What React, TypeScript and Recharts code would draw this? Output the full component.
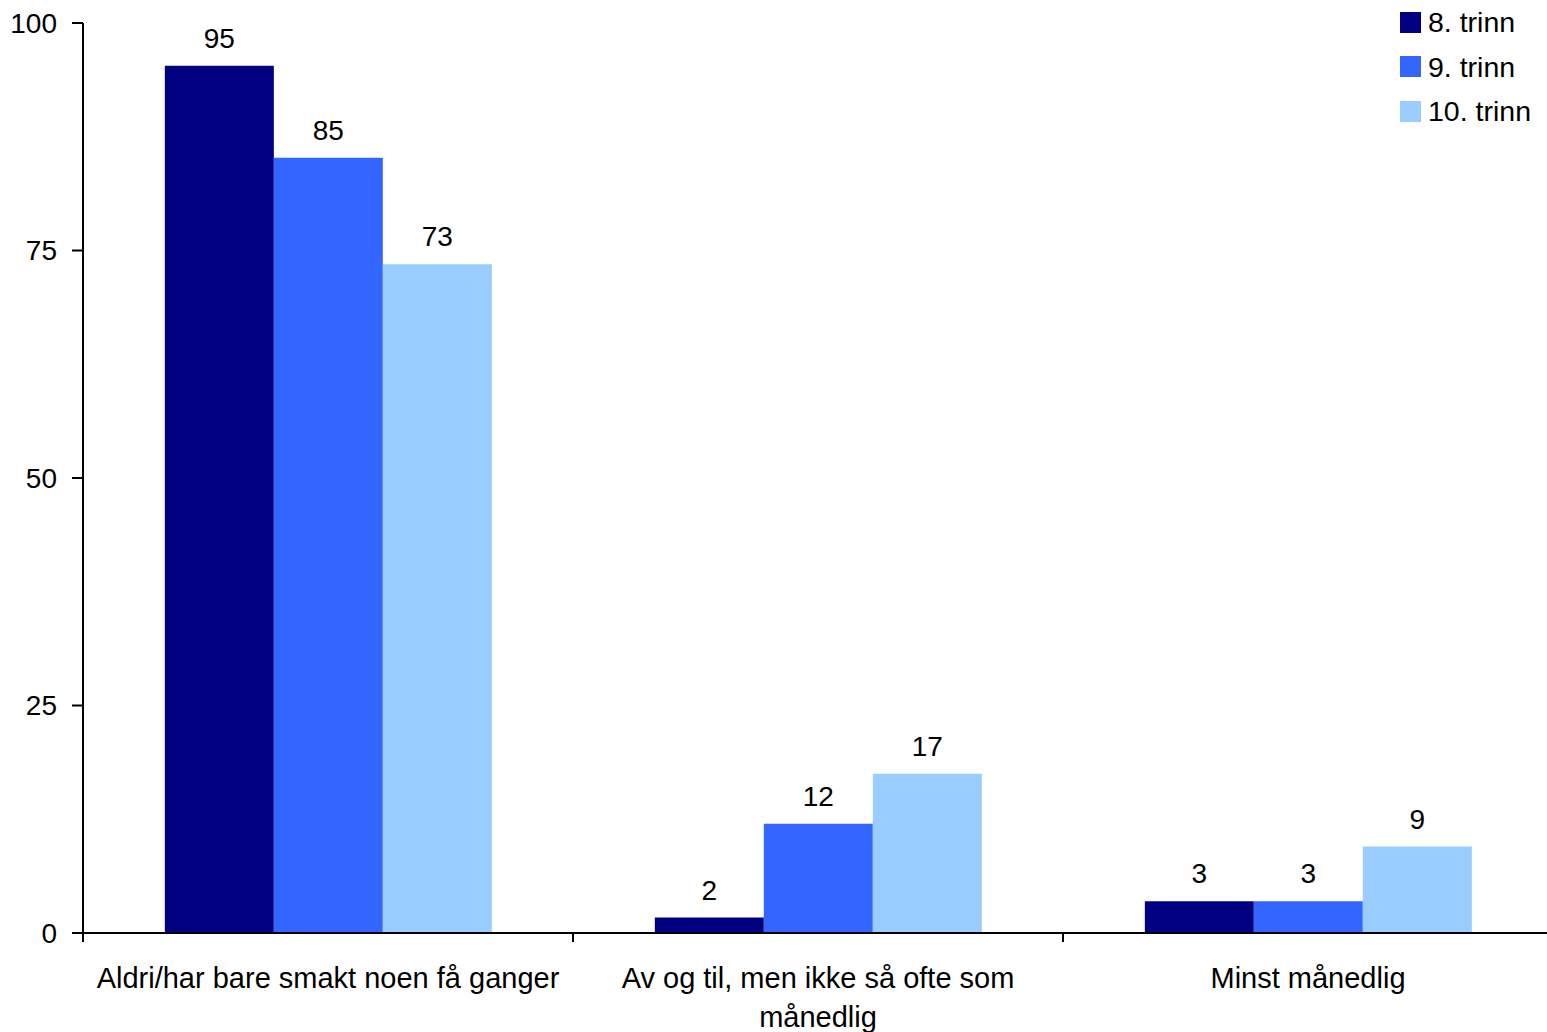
import React from 'react';
import { BarChart, Bar, XAxis, YAxis, Legend, LabelList } from 'recharts';

// answer categories (\n marks the line break used in the source)
const categories = [
  'Aldri/har bare smakt noen få ganger',
  'Av og til, men ikke så ofte som\nmånedlig',
  'Minst månedlig',
];

// series names, in legend order
const seriesNames = ['8. trinn', '9. trinn', '10. trinn'];

// percentages per school year (bar heights)
const trinn8 = [95.3, 1.7, 3.5];
const trinn9 = [85.2, 12.0, 3.5];
const trinn10 = [73.5, 17.5, 9.5];

// printed value labels
const labels8 = [95, 2, 3];
const labels9 = [85, 12, 3];
const labels10 = [73, 17, 9];

const yTicks = [0, 25, 50, 75, 100];

const data = categories.map((name, i) => ({
  name,
  t8: trinn8[i],
  t9: trinn9[i],
  t10: trinn10[i],
  l8: labels8[i],
  l9: labels9[i],
  l10: labels10[i],
}));

const FONT = 28;
const FAMILY = '"Liberation Sans", Arial, sans-serif';
const TICK_LEN = 9;
const TICK_GAP = 34;

// category label at the band centre, tick mark at the band's left edge (Excel style)
const CategoryTick = (props: any) => {
  const { x, y, payload, width, visibleTicksCount } = props;
  const band = width / visibleTicksCount;
  const edge = x - band / 2;
  const axisY = y - TICK_GAP;
  const lines = String(payload.value).split('\n');
  return (
    <g>
      <line x1={edge} x2={edge} y1={axisY} y2={axisY + TICK_LEN} stroke="#000" strokeWidth={2} />
      <text x={x} y={y} textAnchor="middle" fontSize={29} fill="#000">
        {lines.map((line, i) => (
          <tspan key={i} x={x} dy={i === 0 ? '0.71em' : 39}>
            {line}
          </tspan>
        ))}
      </text>
    </g>
  );
};

const renderLegend = (props: any) => (
  <div>
    {props.payload.map((p: any) => (
      <div
        key={p.value}
        style={{ display: 'flex', alignItems: 'center', height: 44.5 }}
      >
        <span
          style={{ display: 'inline-block', width: 21, height: 21, background: p.color, marginRight: 7 }}
        />
        <span style={{ fontSize: 28.5, lineHeight: '28px', color: '#000' }}>{p.value}</span>
      </div>
    ))}
  </div>
);

export default function App() {
  return (
    <div
      style={{
        position: 'absolute',
        left: 0,
        top: 0,
        width: 1547,
        height: 1032,
        overflow: 'hidden',
        background: '#fff',
        fontFamily: FAMILY,
      }}
    >
      <BarChart
        width={1553}
        height={1032}
        data={data}
        margin={{ top: 23, right: 0, bottom: 0, left: 0 }}
        barCategoryGap="16.7%"
        barGap={0}
      >
        <XAxis
          dataKey="name"
          height={99}
          axisLine={{ stroke: '#000', strokeWidth: 2 }}
          tickLine={false}
          tickSize={0}
          tickMargin={TICK_GAP}
          interval={0}
          tick={<CategoryTick />}
        />
        <YAxis
          width={83}
          domain={[0, 100]}
          ticks={yTicks}
          interval={0}
          tickSize={11}
          tickMargin={15}
          tick={{ fontSize: FONT, fill: '#000' }}
          tickLine={{ stroke: '#000', strokeWidth: 2 }}
          axisLine={{ stroke: '#000', strokeWidth: 2 }}
        />
        <Legend
          layout="horizontal"
          verticalAlign="middle"
          align="center"
          content={renderLegend}
          itemSorter={(item: any) => seriesNames.indexOf(item.value)}
          wrapperStyle={{ top: 0, left: 1400, width: 147 }}
        />
        <Bar dataKey="t8" name={seriesNames[0]} fill="#000080" isAnimationActive={false}>
          <LabelList dataKey="l8" position="top" offset={18} fontSize={FONT} fill="#000" />
        </Bar>
        <Bar dataKey="t9" name={seriesNames[1]} fill="#3366FF" isAnimationActive={false}>
          <LabelList dataKey="l9" position="top" offset={18} fontSize={FONT} fill="#000" />
        </Bar>
        <Bar dataKey="t10" name={seriesNames[2]} fill="#99CCFF" isAnimationActive={false}>
          <LabelList dataKey="l10" position="top" offset={18} fontSize={FONT} fill="#000" />
        </Bar>
      </BarChart>
    </div>
  );
}
